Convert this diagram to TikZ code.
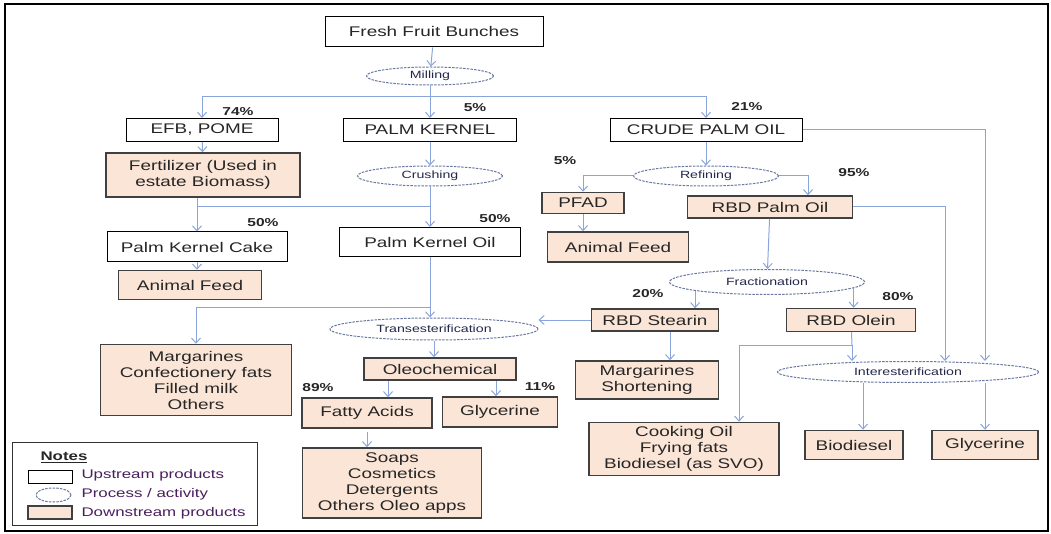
\documentclass[tikz,border=0pt]{standalone}
\usepackage{fontspec}
\setmainfont{Liberation Sans}[FakeStretch=1.35]
\usepackage{tikz}
\usetikzlibrary{shapes.geometric, arrows.meta, positioning}
\usepackage{xcolor}

\definecolor{downfill}{RGB}{251,229,214}
\definecolor{flowblue}{RGB}{138,164,220}
\definecolor{procline}{RGB}{105,120,160}
\definecolor{proctext}{RGB}{35,40,75}
\definecolor{notetext}{RGB}{75,30,95}

\begin{document}
\begin{tikzpicture}[
    x=1pt, y=-1pt,
    % Node styles
    upbox/.style={rectangle, draw=black, line width=1pt, fill=white, minimum height=23pt, inner sep=0pt, align=center, text=black!85, font=\fontsize{14}{16}\selectfont},
    downbox/.style={rectangle, draw=black!75, line width=1.5pt, fill=downfill, inner sep=0pt, align=center, text=black!85, font=\fontsize{14}{16}\selectfont},
    proc/.style={ellipse, draw=procline, dash pattern=on 2.5pt off 1.2pt, line width=1pt, fill=white, inner sep=0pt, text=proctext, font=\fontsize{10.5}{12}\selectfont},
    pct/.style={font=\fontsize{11.5}{13}\selectfont\bfseries, text=black!85},
    note/.style={anchor=west, text=notetext, font=\fontsize{12.5}{14}\selectfont},
    flow/.style={draw=flowblue, line width=1pt},
    arrow/.style={flow, -{Straight Barb[length=5pt, width=9pt]}},
]
\useasboundingbox (0,0) rectangle (1051,534);

% Frame
\draw[line width=2pt] (5,4) rectangle (1048,531);

% Top: milling
\node[upbox, minimum width=218pt, minimum height=30pt] (ffb) at (434,32) {Fresh Fruit Bunches};
\node[proc, minimum width=127pt, minimum height=18pt] (mill) at (430,76) {Milling};
\draw[arrow] (ffb) -- (mill);

\node[upbox, minimum width=152pt] (efb) at (202,130) {EFB, POME};
\node[upbox, minimum width=173pt] (pk) at (430,130) {PALM KERNEL};
\node[upbox, minimum width=192pt] (cpo) at (706,130) {CRUDE PALM OIL};

\coordinate (millsplit) at (430,97);
\draw[flow] (mill) -- (millsplit);
\draw[arrow] (millsplit) -| (efb);
\draw[arrow] (millsplit) -- (pk);
\draw[arrow] (millsplit) -| (cpo);
\node[pct] at (238,112) {74\%};
\node[pct] at (475,108) {5\%};
\node[pct] at (747,107) {21\%};

% Left branch: EFB and kernel
\node[downbox, minimum width=194pt, minimum height=44pt] (fert) at (203,175) {Fertilizer (Used in\\estate Biomass)};
\draw[arrow] (efb) -- (fert);

\node[proc, minimum width=145pt, minimum height=20pt] (crush) at (430,176) {Crushing};
\draw[arrow] (pk) -- (crush);

\node[upbox, minimum width=180pt, minimum height=30pt] (pkc) at (197,247) {Palm Kernel Cake};
\node[upbox, minimum width=181pt, minimum height=29pt] (pko) at (430,242) {Palm Kernel Oil};
\node[downbox, minimum width=143pt, minimum height=29pt] (feedl) at (190,285) {Animal Feed};

\coordinate (crushsplit) at (430,207);
\draw[flow] (crush) -- (crushsplit);
\draw[arrow] (crushsplit) -| (pkc);
\draw[arrow] (crushsplit) -- (pko);
\draw[flow] (fert.south -| pkc.north) -- (pkc.north |- crushsplit);
\draw[arrow] (pkc) -- (pkc |- feedl.north);
\node[pct] at (263,223) {50\%};
\node[pct] at (495,219) {50\%};

% Right branch: refining
\node[proc, minimum width=145pt, minimum height=20pt] (refin) at (706,176) {Refining};
\draw[arrow] (cpo) -- (refin);

\node[downbox, minimum width=82pt, minimum height=21pt] (pfad) at (583,203) {PFAD};
\node[downbox, minimum width=165pt, minimum height=22pt] (rbdpo) at (770,207) {RBD Palm Oil};
\node[downbox, minimum width=141pt, minimum height=30pt] (feedr) at (618,247) {Animal Feed};

\draw[arrow] (refin.west) -| (pfad);
\draw[arrow] (refin.east) -| ([xshift=38pt]rbdpo.north);
\draw[arrow] (pfad) -- (pfad |- feedr.north);
\node[pct] at (565,161) {5\%};
\node[pct] at (854,173) {95\%};

% Fractionation
\node[proc, minimum width=195pt, minimum height=25pt] (frac) at (767,282) {Fractionation};
\draw[arrow] (rbdpo) -- (frac);

\node[downbox, minimum width=127pt, minimum height=22pt] (stea) at (655,320) {RBD Stearin};
\node[downbox, minimum width=129pt, minimum height=23pt] (olein) at (851,320) {RBD Olein};
\draw[arrow] (frac.187) -- (frac.187 |- stea.north);
\draw[arrow] (frac.-4) -- (frac.-4 |- olein.north);
\node[pct] at (648,294) {20\%};
\node[pct] at (898,297) {80\%};

% Transesterification
\node[proc, minimum width=208pt, minimum height=22pt] (trans) at (434,329) {Transesterification};
\node[downbox, minimum width=191pt, minimum height=71pt] (margl) at (196,380) {Margarines\\Confectionery fats\\Filled milk\\Others};

\coordinate (pkosplit) at (430,308);
\draw[flow] (pko) -- (pkosplit);
\draw[arrow] (pkosplit) -| (margl);
\draw[arrow] (pkosplit) -- (pkosplit |- trans.north);
\draw[arrow] (stea.west) -- (stea.west -| trans.east);

\node[downbox, minimum width=152pt, minimum height=22pt] (oleo) at (440,369) {Oleochemical};
\node[downbox, minimum width=130pt, minimum height=30pt] (fatty) at (367,413) {Fatty Acids};
\node[downbox, minimum width=115pt, minimum height=30pt] (glym) at (500,412) {Glycerine};
\node[downbox, minimum width=179pt, minimum height=70pt] (soap) at (392,483) {Soaps\\Cosmetics\\Detergents\\Others Oleo apps};

\draw[arrow] (trans.south) -- (trans.south |- oleo.north);
\draw[arrow] ([xshift=-52pt]oleo.south) -- ([xshift=-52pt]oleo.south |- fatty.north);
\draw[arrow] ([xshift=56pt]oleo.south) -- ([xshift=56pt]oleo.south |- glym.north);
\draw[arrow] ([yshift=-3pt]fatty.south) -- (fatty.south |- soap.north);
\node[pct] at (318,388) {89\%};
\node[pct] at (540,387) {11\%};

% Stearin and olein products
\node[downbox, minimum width=143pt, minimum height=38pt] (margr) at (647,380) {Margarines\\Shortening};
\draw[arrow] ([xshift=15pt]stea.south) -- ([xshift=15pt]stea.south |- margr.north);

\node[proc, minimum width=261pt, minimum height=21pt] (inter) at (908,372) {Interesterification};
\node[downbox, minimum width=190pt, minimum height=53pt] (cook) at (684,449) {Cooking Oil\\Frying fats\\Biodiesel (as SVO)};
\node[downbox, minimum width=98pt, minimum height=29pt] (biod) at (854,445) {Biodiesel};
\node[downbox, minimum width=106pt, minimum height=29pt] (glyr) at (985,445) {Glycerine};

\coordinate (oleinsplit) at (852,345);
\draw[flow] (olein) -- (oleinsplit);
\draw[arrow] (oleinsplit) -- (oleinsplit |- inter.north);
\draw[arrow] (oleinsplit) -| ([xshift=55pt]cook.north);
\draw[arrow] (rbdpo.east) -| ([xshift=37pt]inter.north);
\draw[arrow] (cpo.east) -| ([xshift=77pt]inter.north);
\draw[arrow] ([xshift=9pt]inter.south -| biod.north) -- ([xshift=9pt]biod.north);
\draw[arrow] ([xshift=77pt]inter.south) -- ([xshift=77pt]inter.south |- glyr.north);

% Legend
\node[draw=black!80, line width=1pt, minimum width=245pt, minimum height=83pt, inner sep=0pt] (legend) at (134.5,483.5) {};
\node[anchor=west, font=\fontsize{12.5}{14}\selectfont\bfseries, text=black!85] (notes) at (37,457) {\underline{Notes}};
\node[upbox, minimum width=44pt, minimum height=13pt] (keyup) at (50,476.5) {};
\node[proc, minimum width=35pt, minimum height=14pt] (keyproc) at (53.5,495) {};
\node[downbox, minimum width=44pt, minimum height=13pt] (keydown) at (50,512.5) {};
\node[note] at (78,475) {Upstream products};
\node[note] at (78,494) {Process / activity};
\node[note] at (78,513) {Downstream products};

\end{tikzpicture}
\end{document}
